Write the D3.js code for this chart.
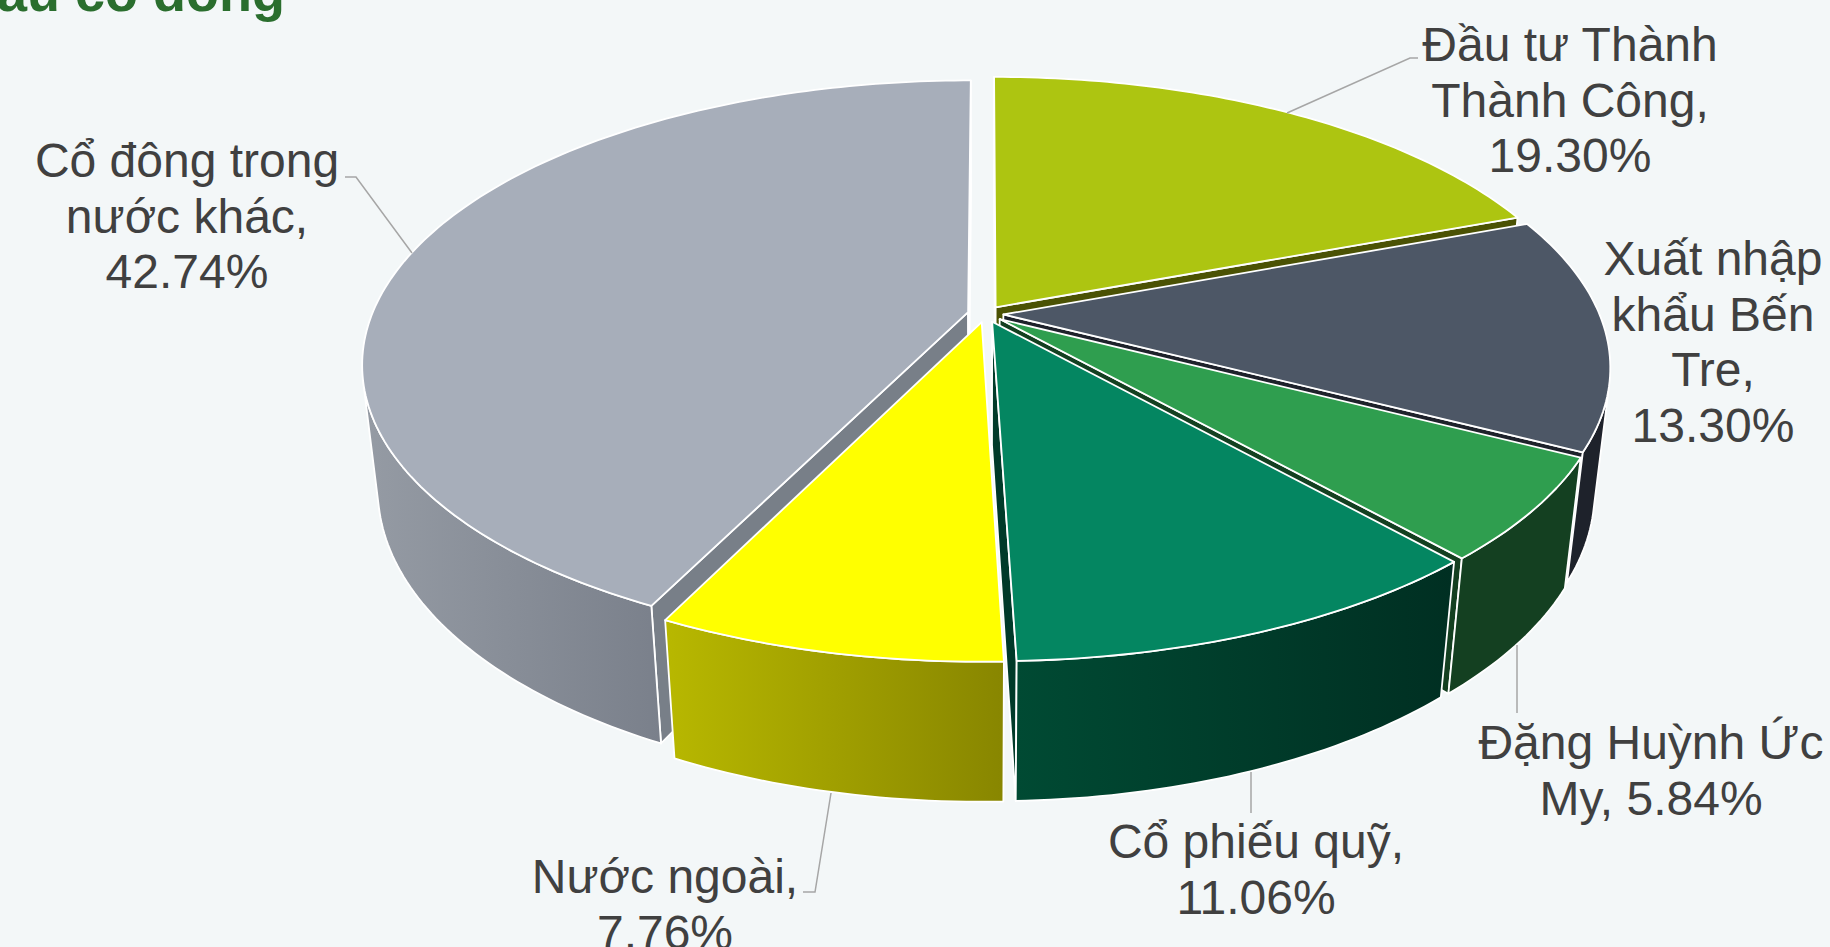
<!DOCTYPE html>
<html>
<head>
<meta charset="utf-8">
<script src="https://cdnjs.cloudflare.com/ajax/libs/d3/7.8.5/d3.min.js"></script>
<style>
  html, body { margin: 0; padding: 0; background: #f3f7f8; overflow: hidden; }
  text { font-family: "Liberation Sans", Arial, sans-serif; }
</style>
</head>
<body>
<div id="chart"></div>
<script>
// chart data
const categories = ["Đầu tư Thành Thành Công", "Xuất nhập khẩu Bến Tre", "Đặng Huỳnh Ức My", "Cổ phiếu quỹ", "Nước ngoài", "Cổ đông trong nước khác"];
const shares = [19.30, 13.30, 5.84, 11.06, 7.76, 42.74];
const labelLines = [
    ["Đầu tư Thành", "Thành Công,", "19.30%"],
    ["Xuất nhập", "khẩu Bến", "Tre,", "13.30%"],
    ["Đặng Huỳnh Ức", "My, 5.84%"],
    ["Cổ phiếu quỹ,", "11.06%"],
    ["Nước ngoài,", "7.76%"],
    ["Cổ đông trong", "nước khác,", "42.74%"]
];

// colours, same order as categories
const topColors = ["#adc511", "#4d5766", "#2f9e4f", "#048661", "#ffff00", "#a7aeba"];
const wallColors = ["#4b5204", "#1e222b", "#144021", "#003a29", "#8a8600", "#787f88"];
const sideLeft = ["#4b5204", "#1e222b", "#144021", "#004a33", "#b8b800", "#959ba4"];
const sideRight = ["#4b5204", "#1e222b", "#144021", "#002f22", "#888600", "#7a808b"];

// label layout
const labelX = [1570, 1713, 1651, 1256, 665, 187];
const labelY = [61, 275, 759, 858, 893, 177];
const leaders = [
    [[1418, 58], [1410, 58], [1287, 113]],
    [],
    [[1517, 645], [1517, 713]],
    [[1251, 772], [1251, 813]],
    [[803, 892], [815, 892], [831, 793]],
    [[345, 177], [356, 177], [412, 253]]
];

const width = 1830, height = 947;
const cx = 985.5, cy = 314;
const scaleU = 596, scaleV = 274.5, scaleW = 126;
const perspV = 0.182, perspW = 0.025;
const explode = 0.03;
const edgeWidth = 1.8;

const svg = d3.select("#chart").append("svg")
    .attr("width", width)
    .attr("height", height)
    .style("display", "block");

const defs = svg.append("defs");

// u right, v toward viewer, w down through the disc
function project(u, v, w) {
    const d = 1 - perspV * v + perspW * w;
    return [cx + scaleU * u / d, cy + (scaleV * v + scaleW * w) / d];
}

const line = d3.line();
const closed = pts => line(pts) + "Z";

const pie = d3.pie().sort(null).value(d => d);
const arcs = pie(shares);

// painter's order: back slices first
const drawOrder = [0, 5, 1, 2, 4, 3];

drawOrder.forEach(i => {
    const a = arcs[i];
    const mid = (a.startAngle + a.endAngle) / 2;
    const ou = Math.sin(mid) * explode, ov = -Math.cos(mid) * explode;
    const rim = (t, w) => project(ou + Math.sin(t), ov - Math.cos(t), w);
    const apex = w => project(ou, ov, w);

    const step = Math.PI / 180;
    const angles = d3.range(a.startAngle, a.endAngle, step).concat(a.endAngle);

    const g = svg.append("g").attr("class", "slice");

    // radial walls
    const startWall = [apex(0), rim(a.startAngle, 0), rim(a.startAngle, 1), apex(1)];
    const endWall = [apex(0), rim(a.endAngle, 0), rim(a.endAngle, 1), apex(1)];
    [[startWall, d3.polygonArea(startWall) > 0], [endWall, d3.polygonArea(endWall) < 0]].forEach(([q, show]) => {
        if (!show) return;
        g.append("path").attr("d", closed(q))
            .attr("fill", wallColors[i])
            .attr("stroke", "#fff").attr("stroke-width", edgeWidth).attr("stroke-linejoin", "round");
    });

    // outer wall, only the part that faces the viewer
    const facing = [];
    d3.pairs(angles).forEach(([t0, t1]) => {
        const q = [rim(t0, 0), rim(t1, 0), rim(t1, 1), rim(t0, 1)];
        if (d3.polygonArea(q) > 0) {
            if (!facing.length) facing.push(t0);
            facing.push(t1);
        }
    });
    if (facing.length) {
        const outer = facing.map(t => rim(t, 0)).concat(facing.slice().reverse().map(t => rim(t, 1)));
        const gradId = "side" + i;
        const xs = d3.extent(outer, p => p[0]);
        const grad = defs.append("linearGradient").attr("id", gradId)
            .attr("gradientUnits", "userSpaceOnUse")
            .attr("x1", xs[0]).attr("x2", xs[1]).attr("y1", 0).attr("y2", 0);
        grad.append("stop").attr("offset", 0).attr("stop-color", sideLeft[i]);
        grad.append("stop").attr("offset", 1).attr("stop-color", sideRight[i]);
        g.append("path").attr("d", closed(outer))
            .attr("fill", `url(#${gradId})`)
            .attr("stroke", "#fff").attr("stroke-width", edgeWidth).attr("stroke-linejoin", "round");
    }

    // top face
    const top = [apex(0)].concat(angles.map(t => rim(t, 0)));
    g.append("path").attr("d", closed(top))
        .attr("fill", topColors[i])
        .attr("stroke", "#fff").attr("stroke-width", edgeWidth).attr("stroke-linejoin", "round");
});

// leader lines
svg.append("g").selectAll("path")
    .data(leaders.filter(d => d.length))
    .join("path")
    .attr("d", d => line(d))
    .attr("fill", "none")
    .attr("stroke", "#a6a6a6")
    .attr("stroke-width", 1.5);

// data labels
const labels = svg.append("g").selectAll("text")
    .data(labelLines)
    .join("text")
    .attr("x", (d, i) => labelX[i])
    .attr("y", (d, i) => labelY[i])
    .attr("text-anchor", "middle")
    .attr("font-size", 48)
    .attr("fill", "#404040");

labels.selectAll("tspan")
    .data(d => d)
    .join("tspan")
    .attr("x", function () { return this.parentNode.getAttribute("x"); })
    .attr("dy", (d, i) => i ? 55.5 : 0)
    .text(d => d);

// title, clipped by the top of the frame
svg.append("text")
    .attr("x", 285)
    .attr("y", 11)
    .attr("text-anchor", "end")
    .attr("font-size", 54)
    .attr("font-weight", "bold")
    .attr("fill", "#2a6e2e")
    .text("Cơ cấu cổ đông");
</script>
</body>
</html>
